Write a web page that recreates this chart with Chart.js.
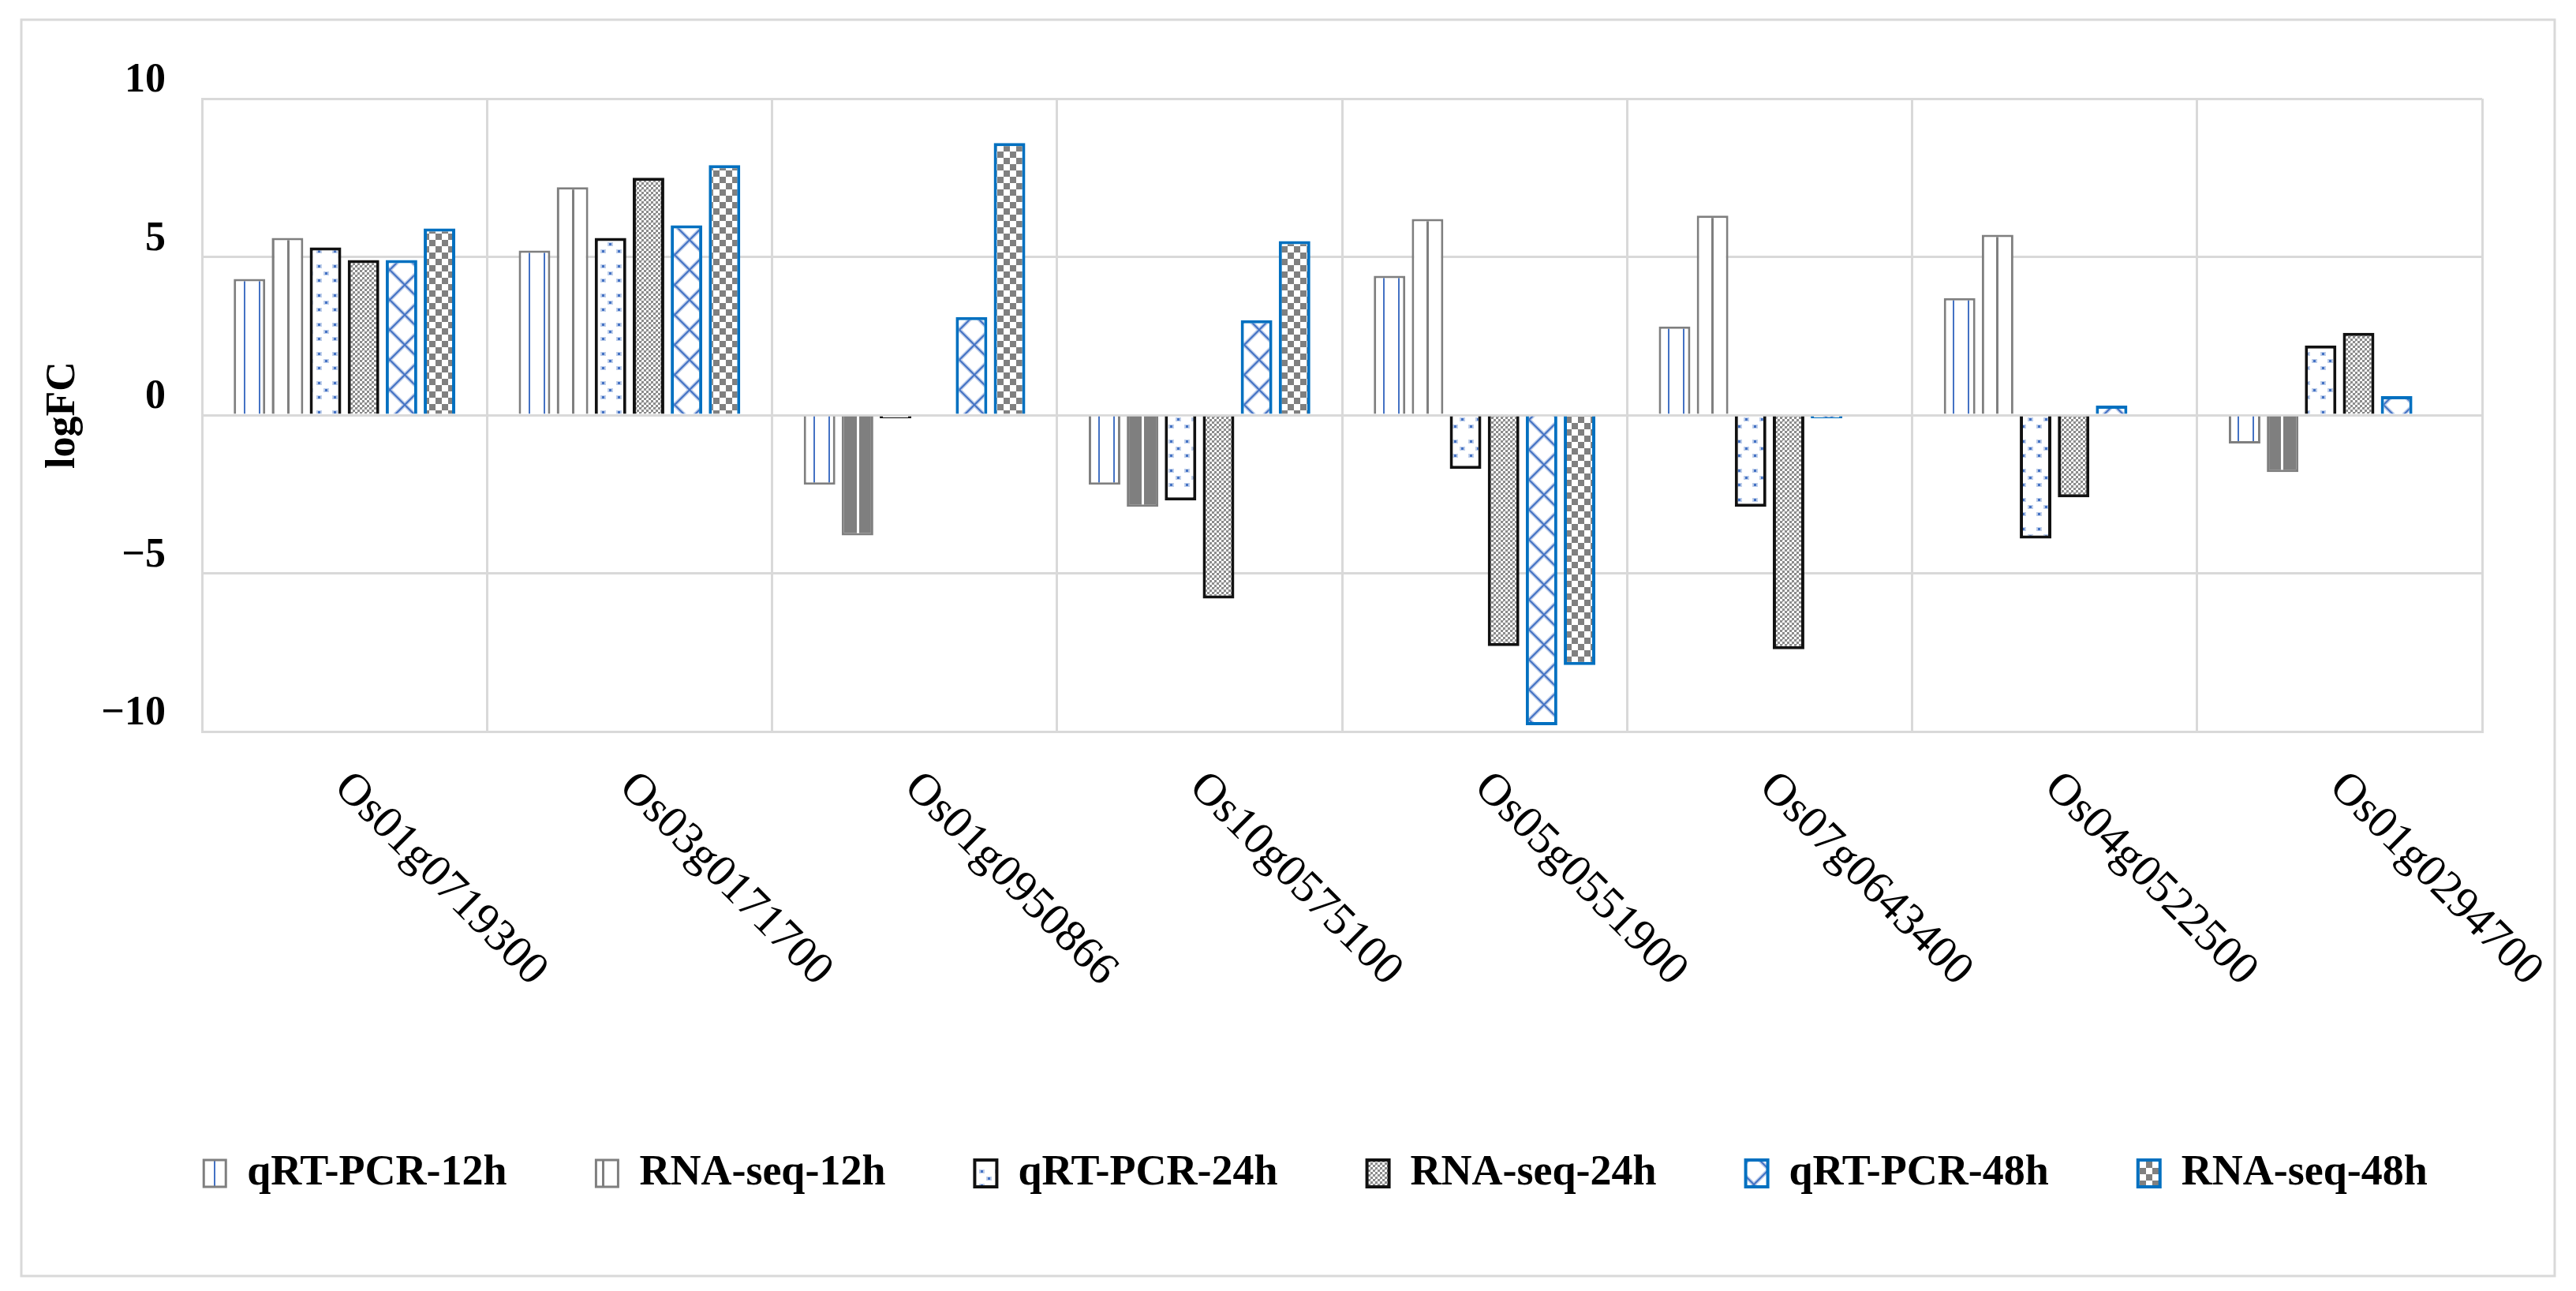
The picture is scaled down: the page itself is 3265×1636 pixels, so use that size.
<!DOCTYPE html>
<html>
<head>
<meta charset="utf-8">
<title>logFC qRT-PCR vs RNA-seq</title>
<script src="https://cdn.jsdelivr.net/npm/chart.js@4.4.1/dist/chart.umd.min.js"></script>
<style>
    html, body { margin: 0; padding: 0; background: #fff; }
    canvas { display: block; }
</style>
</head>
<body>
<canvas id="chart" width="3265" height="1636"></canvas>
<script>
// ---------------------------------------------------------
// DATA
// ---------------------------------------------------------
const genes = ['Os01g0719300', 'Os03g0171700', 'Os01g0950866', 'Os10g0575100',
               'Os05g0551900', 'Os07g0643400', 'Os04g0522500', 'Os01g0294700'];
const seriesNames = ['qRT-PCR-12h', 'RNA-seq-12h', 'qRT-PCR-24h', 'RNA-seq-24h', 'qRT-PCR-48h', 'RNA-seq-48h'];

const qrt12h = [4.3, 5.2, -2.2, -2.2, 4.4, 2.8, 3.7, -0.9];
const rna12h = [5.6, 7.2, -3.8, -2.9, 6.2, 6.3, 5.7, -1.8];
const qrt24h = [5.3, 5.6, -0.1, -2.7, -1.7, -2.9, -3.9, 2.2];
const rna24h = [4.9, 7.5, null, -5.8, -7.3, -7.4, -2.6, 2.6];
const qrt48h = [4.9, 6.0, 3.1, 3.0, -9.8, -0.1, 0.3, 0.6];
const rna48h = [5.9, 7.9, 8.6, 5.5, -7.9, null, null, null];

const yTicks = [-10, -5, 0, 5, 10];
const yTitle = 'logFC';

// ---------------------------------------------------------
// PATTERNS (Excel-like hatch fills)
// ---------------------------------------------------------
const canvas = document.getElementById('chart');
const ctx = canvas.getContext('2d');

const makePattern = (w, h, draw) => {
    const c = document.createElement('canvas');
    c.width = w; c.height = h;
    const g = c.getContext('2d');
    draw(g, w, h);
    return ctx.createPattern(c, 'repeat');
};

const BLUE = '#4472C4';
const GREY = '#7f7f7f';

const vBlue = makePattern(19, 4, (g, w, h) => {
    g.fillStyle = '#fff'; g.fillRect(0, 0, w, h);
    g.fillStyle = BLUE; g.fillRect(5, 0, 2, h);
});
const vGrey = makePattern(19, 4, (g, w, h) => {
    g.fillStyle = '#fff'; g.fillRect(0, 0, w, h);
    g.fillStyle = GREY; g.fillRect(3, 0, 3, h);
});
const vGreyInv = makePattern(19, 4, (g, w, h) => {
    g.fillStyle = GREY; g.fillRect(0, 0, w, h);
    g.fillStyle = '#fff'; g.fillRect(3, 0, 3, h);
});
const dots = makePattern(20, 37, (g, w, h) => {
    g.fillStyle = '#fff'; g.fillRect(0, 0, w, h);
    const dot = (x, y) => {
        g.fillStyle = 'rgba(68,114,196,0.35)'; g.fillRect(x - 2, y - 1, 7, 5);
        g.fillStyle = BLUE; g.fillRect(x, y, 3, 3);
    };
    dot(3, 3); dot(3, 21); dot(12, 12);
});
const fineChecker = makePattern(6, 6, (g, w, h) => {
    g.fillStyle = '#fff'; g.fillRect(0, 0, w, h);
    g.fillStyle = '#8c8c8c'; g.fillRect(0, 0, 3, 3); g.fillRect(3, 3, 3, 3);
    g.fillStyle = '#b5b5b5'; g.fillRect(3, 0, 1, 1);
});
const cross = makePattern(38, 38, (g, w, h) => {
    g.fillStyle = '#fff'; g.fillRect(0, 0, w, h);
    const lines = () => {
        g.beginPath();
        g.moveTo(-2, -2); g.lineTo(w + 2, h + 2);
        g.moveTo(w + 2, -2); g.lineTo(-2, h + 2);
        g.stroke();
    };
    g.strokeStyle = 'rgba(68,114,196,0.35)'; g.lineWidth = 5; lines();
    g.strokeStyle = BLUE; g.lineWidth = 2; lines();
});
const bigChecker = makePattern(16, 16, (g, w, h) => {
    g.fillStyle = '#fff'; g.fillRect(0, 0, w, h);
    g.fillStyle = '#808080'; g.fillRect(0, 0, 8, 8); g.fillRect(8, 8, 8, 8);
});

// ---------------------------------------------------------
// PLUGINS: outer frame + rotated gene labels
// ---------------------------------------------------------
const framePlugin = {
    id: 'frame',
    beforeDraw(chart) {
        const c = chart.ctx;
        c.save();
        c.fillStyle = '#fff';
        c.fillRect(0, 0, chart.width, chart.height);
        c.strokeStyle = '#d9d9d9';
        c.lineWidth = 3;
        c.strokeRect(27, 25, 3211, 1592);
        c.restore();
    }
};

const geneLabelPlugin = {
    id: 'geneLabels',
    afterDraw(chart) {
        const c = chart.ctx;
        const xs = chart.scales.x;
        const bottom = chart.chartArea.bottom;
        c.save();
        c.fillStyle = '#000';
        c.font = '58px "Liberation Serif", "Times New Roman", serif';
        c.textAlign = 'left';
        c.textBaseline = 'middle';
        genes.forEach((g, i) => {
            c.save();
            c.translate(xs.getPixelForValue(i) - 4, bottom + 62);
            c.rotate(Math.PI / 4);
            c.fillText(g, 0, 0);
            c.restore();
        });
        c.restore();
    }
};

// ---------------------------------------------------------
// CHART
// ---------------------------------------------------------
Chart.defaults.font.family = '"Liberation Serif", "Times New Roman", serif';
Chart.defaults.color = '#000';

const mk = (label, data, bg, border, bw) => ({ label, data, backgroundColor: bg, borderColor: border, borderWidth: bw });

new Chart(ctx, {
    type: 'bar',
    data: {
        labels: genes,
        datasets: [
            mk(seriesNames[0], qrt12h, vBlue, GREY, 3),
            mk(seriesNames[1], rna12h, c => (c.raw !== undefined && c.raw < 0) ? vGreyInv : vGrey, GREY, 3),
            mk(seriesNames[2], qrt24h, dots, '#111', 4),
            mk(seriesNames[3], rna24h, fineChecker, '#111', 4),
            mk(seriesNames[4], qrt48h, cross, '#0070C0', 4),
            mk(seriesNames[5], rna48h, bigChecker, '#0070C0', 4)
        ]
    },
    options: {
        responsive: false,
        devicePixelRatio: 1,
        animation: false,
        categoryPercentage: 0.8,
        barPercentage: 0.83,
        layout: { padding: { left: 70, right: 0, top: 125, bottom: 112 } },
        plugins: {
            tooltip: { enabled: false },
            legend: {
                position: 'bottom',
                labels: {
                    boxWidth: 28,
                    boxHeight: 34,
                    padding: 113,
                    color: '#000',
                    font: { size: 54, weight: 'bold' }
                }
            }
        },
        scales: {
            x: {
                grid: { color: '#d9d9d9', lineWidth: 3, offset: true, drawTicks: false },
                border: { color: '#d9d9d9', width: 3 },
                ticks: { display: false },
                afterFit: (scale) => { scale.height = 420; }
            },
            y: {
                min: -10,
                max: 10,
                afterBuildTicks: (scale) => { scale.ticks = yTicks.map(v => ({ value: v })); },
                grid: { color: '#d9d9d9', lineWidth: 3, drawTicks: false },
                border: { color: '#d9d9d9', width: 3 },
                ticks: {
                    padding: 46,
                    labelOffset: -22,
                    color: '#000',
                    font: { size: 52, weight: 'bold' },
                    callback: v => v < 0 ? '\u2212' + Math.abs(v) : String(v)
                },
                title: {
                    display: true,
                    text: yTitle,
                    color: '#000',
                    font: { size: 52, weight: 'bold' },
                    padding: { top: -21, bottom: 0 }
                },
                afterFit: (scale) => { scale.width = 186; }
            },
            // empty spacer on the right so the plot ends where the reference does
            spacer: {
                type: 'linear',
                position: 'right',
                display: true,
                grid: { display: false },
                border: { display: false },
                ticks: { display: false },
                afterFit: (scale) => { scale.width = 119; }
            }
        }
    },
    plugins: [framePlugin, geneLabelPlugin]
});
</script>
</body>
</html>
